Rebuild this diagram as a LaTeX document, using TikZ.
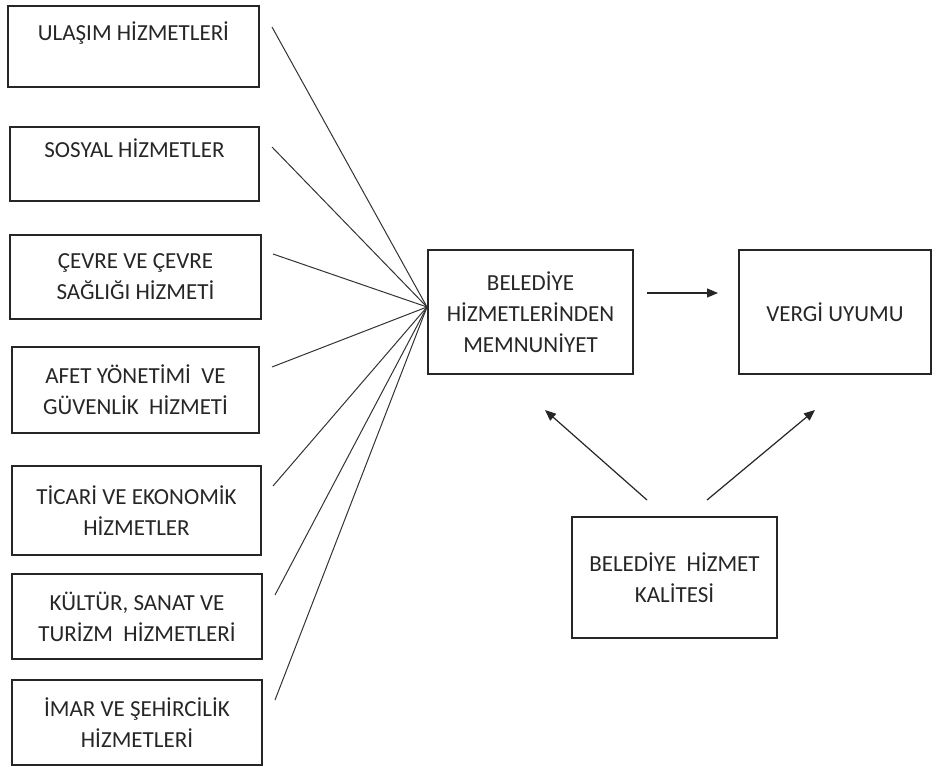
\documentclass[tikz,border=0pt]{standalone}
\usepackage{fontspec}
\setmainfont{Carlito}
\usetikzlibrary{arrows.meta,positioning}
\tikzset{
  box/.style={draw=black!85, line width=1.3pt, align=center, inner sep=2pt,
    font=\fontsize{23}{31}\selectfont, text=black!85},
  conn/.style={draw=black!80, line width=1pt},
  arr/.style={draw=black!85, line width=1.2pt, -{Triangle[length=11pt,width=9pt]}},
}
\begin{document}
\begin{tikzpicture}[x=1pt,y=-1pt]
\useasboundingbox (0,0) rectangle (936,767);
% left boxes
\node[box, minimum width=251pt, minimum height=81pt] (b1) at (133.5,46.5) {ULAŞIM HİZMETLERİ\\ \mbox{}};
\node[box, minimum width=249pt, minimum height=74pt] (b2) at (134.5,164) {SOSYAL HİZMETLER\\ \mbox{}};
\node[box, minimum width=251pt, minimum height=84pt] (b3) at (135.5,277) {ÇEVRE VE ÇEVRE\\SAĞLIĞI HİZMETİ};
\node[box, minimum width=247pt, minimum height=86pt] (b4) at (135.5,390) {AFET YÖNETİMİ\ \ VE\\GÜVENLİK\ \ HİZMETİ};
\node[box, minimum width=249pt, minimum height=89pt] (b5) at (136.5,510.5) {TİCARİ VE EKONOMİK\\HİZMETLER};
\node[box, minimum width=250pt, minimum height=85pt] (b6) at (137,616.5) {KÜLTÜR,\ SANAT VE\\TURİZM\ \ HİZMETLERİ};
\node[box, minimum width=250pt, minimum height=85pt] (b7) at (137,722.5) {İMAR VE ŞEHİRCİLİK\\HİZMETLERİ};
% middle and right boxes
\node[box, minimum width=205pt, minimum height=124pt] (mem) at (530.5,312) {BELEDİYE\\HİZMETLERİNDEN\\MEMNUNİYET};
\node[box, minimum width=192pt, minimum height=124pt] (ver) at (835,312) {VERGİ UYUMU};
\node[box, minimum width=205pt, minimum height=121pt] (kal) at (674.5,577.5) {BELEDİYE\ \ HİZMET\\KALİTESİ};
% convergence point and line starts
\coordinate (cv) at (427,307);
\coordinate (s1) at (272,27);
\coordinate (s2) at (272,147);
\coordinate (s3) at (273,254);
\coordinate (s4) at (272,367);
\coordinate (s5) at (273,486);
\coordinate (s6) at (275,595);
\coordinate (s7) at (275,700);
\foreach \i in {1,...,7} { \draw[conn] (s\i) -- (cv); }
% arrows
\coordinate (a1) at (647,293);
\coordinate (a2) at (718,293);
\draw[arr] (a1) -- (a2);
\coordinate (k1) at (647,500);
\coordinate (k2) at (545,410);
\draw[arr] (k1) -- (k2);
\coordinate (k3) at (707,500);
\coordinate (k4) at (815,410);
\draw[arr] (k3) -- (k4);
\end{tikzpicture}
\end{document}
